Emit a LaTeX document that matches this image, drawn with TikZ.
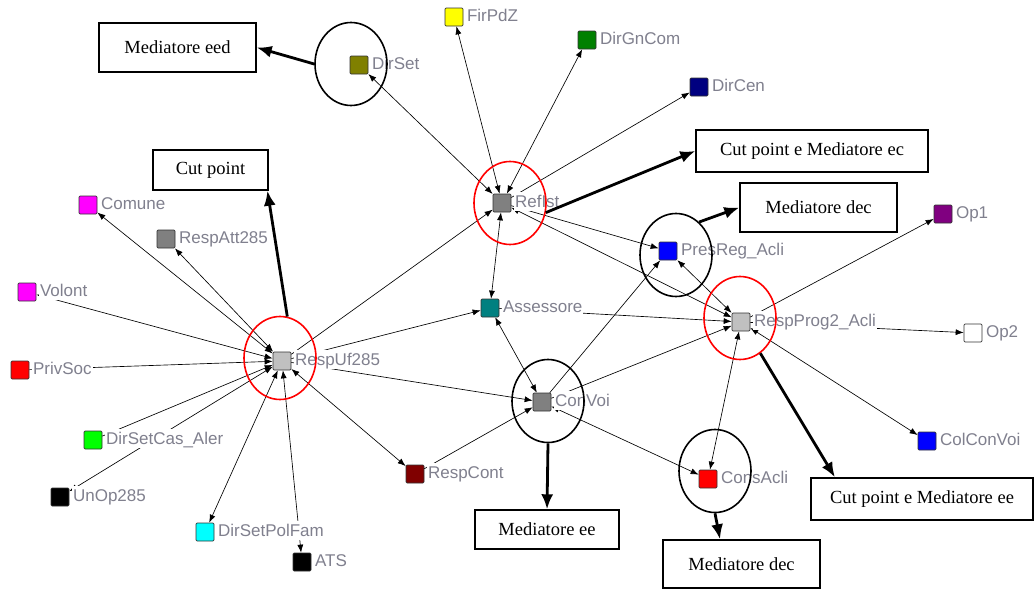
\documentclass[tikz,border=0pt]{standalone}
\usepackage{fontspec}
\setmainfont{Liberation Serif}
\newfontfamily\lblfont{Liberation Sans}
\usetikzlibrary{arrows.meta,shapes.geometric,calc}

\definecolor{lblgray}{RGB}{128,128,142}
\definecolor{olivec}{RGB}{128,128,0}
\definecolor{greenc}{RGB}{0,128,0}
\definecolor{limec}{RGB}{0,255,0}
\definecolor{navyc}{RGB}{0,0,128}
\definecolor{grayc}{RGB}{128,128,128}
\definecolor{silverc}{RGB}{192,192,192}
\definecolor{tealc}{RGB}{0,128,128}
\definecolor{purplec}{RGB}{128,0,128}
\definecolor{maroonc}{RGB}{128,0,0}
\definecolor{magentac}{RGB}{255,0,255}
\definecolor{cyanc}{RGB}{0,255,255}
\definecolor{yellowc}{RGB}{255,255,0}
\definecolor{redc}{RGB}{255,0,0}
\definecolor{bluec}{RGB}{0,0,255}
\definecolor{ringred}{RGB}{255,0,0}

\begin{document}
\begin{tikzpicture}[x=1pt,y=-1pt,
  sq/.style={draw=black!80, line width=0.7pt, rounded corners=1.2pt,
    minimum size=18pt, inner sep=0pt, fill=#1},
  lbl/.style={font=\lblfont\fontsize{17}{20}\selectfont, text=lblgray,
    fill=white, inner xsep=1pt, inner ysep=0.5pt,
    text height=15pt, text depth=3pt, anchor=base west},
  lnk/.style={line width=0.65pt, -{Latex[length=8pt,width=6pt]}},
  blnk/.style={line width=0.65pt,
    {Latex[length=8pt,width=6pt]}-{Latex[length=8pt,width=6pt]}},
  ring/.style={ellipse, draw=#1, line width=1.6pt, minimum width=72pt,
    minimum height=83pt, inner sep=0pt},
  tag/.style={draw, line width=1.4pt, font=\fontsize{18.5}{22}\selectfont,
    inner sep=0pt},
  bigarrow/.style={line width=2.8pt, -{Latex[length=15pt,width=12pt]}}
]
\useasboundingbox (0,0) rectangle (1036,589);

% actors
\node[sq=yellowc]  (firpdz)    at (454,17)  {};
\node[sq=greenc]   (dirgncom)  at (587,40)  {};
\node[sq=navyc]    (dircen)    at (699,87)  {};
\node[sq=olivec]   (dirset)    at (359,65)  {};
\node[sq=grayc]    (refist)    at (502,203) {};
\node[sq=magentac] (comune)    at (88,205)  {};
\node[sq=grayc]    (respatt)   at (166,239) {};
\node[sq=magentac] (volont)    at (27,292)  {};
\node[sq=redc]     (privsoc)   at (20,370)  {};
\node[sq=silverc]  (respuf)    at (282,361) {};
\node[sq=limec]    (dirsetcas) at (93,440)  {};
\node[sq=black]    (unop)      at (60,497)  {};
\node[sq=cyanc]    (dirsetpol) at (205,532) {};
\node[sq=black]    (ats)       at (302,562) {};
\node[sq=tealc]    (assessore) at (490,308) {};
\node[sq=bluec]    (presreg)   at (668,251) {};
\node[sq=silverc]  (respprog)  at (741,322) {};
\node[sq=purplec]  (op1)       at (943,214) {};
\node[sq=white]    (op2)       at (973,333) {};
\node[sq=bluec]    (colconvoi) at (927,441) {};
\node[sq=grayc]    (convoi)    at (542,402) {};
\node[sq=maroonc]  (respcont)  at (415,474) {};
\node[sq=redc]     (consacli)  at (708,479) {};

% ties
\draw[blnk] (refist) -- (dirset);
\draw[blnk] (refist) -- (firpdz);
\draw[blnk] (refist) -- (dirgncom);
\draw[lnk]  (refist) -- (dircen);
\draw[lnk]  (respuf) -- (refist);
\draw[blnk] (refist) -- (assessore);
\draw[lnk]  (refist) -- (presreg);
\draw[blnk] (refist) -- (respprog);
\draw[lnk]  (respuf) -- (assessore);
\draw[lnk]  (assessore) -- (respprog);
\draw[blnk] (assessore) -- (convoi);
\draw[lnk]  (respuf) -- (convoi);
\draw[blnk] (respuf) -- (respcont);
\draw[lnk]  (respcont) -- (convoi);
\draw[lnk]  (convoi) -- (presreg);
\draw[lnk]  (convoi) -- (respprog);
\draw[blnk] (convoi) -- (consacli);
\draw[blnk] (presreg) -- (respprog);
\draw[lnk]  (respprog) -- (op1);
\draw[lnk]  (respprog) -- (op2);
\draw[blnk] (respprog) -- (colconvoi);
\draw[blnk] (respprog) -- (consacli);
\draw[blnk] (comune) -- (respuf);
\draw[blnk] (respatt) -- (respuf);
\draw[blnk] (volont) -- (respuf);
\draw[lnk]  (privsoc) -- (respuf);
\draw[lnk]  (dirsetcas) -- (respuf);
\draw[blnk] (unop) -- (respuf);
\draw[blnk] (dirsetpol) -- (respuf);
\draw[blnk] (ats) -- (respuf);

% names
\foreach \n/\t in {firpdz/FirPdZ, dirgncom/DirGnCom, dircen/DirCen,
  dirset/DirSet, refist/RefIst, comune/Comune, respatt/RespAtt285,
  volont/Volont, privsoc/PrivSoc, respuf/RespUf285,
  dirsetcas/DirSetCas\_Aler, unop/UnOp285, dirsetpol/DirSetPolFam,
  ats/ATS, assessore/Assessore, presreg/PresReg\_Acli,
  respprog/RespProg2\_Acli, op1/Op1, op2/Op2, colconvoi/ColConVoi,
  convoi/ConVoi, respcont/RespCont, consacli/ConsAcli}
  \node[lbl] (t-\n) at ($(\n.east)+(2.5pt,-4pt)$) {\t};

% highlighted actors
\node[ring=black]   (c-dirset)   at (351,64)  {};
\node[ring=ringred] (c-refist)   at (510,203) {};
\node[ring=ringred] (c-respuf)   at (280,358) {};
\node[ring=black]   (c-presreg)  at (676,255) {};
\node[ring=ringred] (c-respprog) at (740,318) {};
\node[ring=black]   (c-convoi)   at (548,401) {};
\node[ring=black]   (c-consacli) at (715,471) {};

% roles
\node[tag, minimum width=157pt, minimum height=49pt] (b-eed)    at (177.5,47.5) {Mediatore eed};
\node[tag, minimum width=115pt, minimum height=40pt] (b-cut)    at (210.5,170)  {Cut point};
\node[tag, minimum width=232pt, minimum height=42pt] (b-cutec)  at (812,151)    {Cut point e Mediatore ec};
\node[tag, minimum width=157pt, minimum height=49pt] (b-dectop) at (818.5,207.5){Mediatore dec};
\node[tag, minimum width=144pt, minimum height=39pt] (b-ee)     at (547,529.5)  {Mediatore ee};
\node[tag, minimum width=157pt, minimum height=48pt] (b-decbot) at (741.5,564)  {Mediatore dec};
\node[tag, minimum width=222pt, minimum height=42pt] (b-cutee)  at (922,499)    {Cut point e Mediatore ee};

\draw[bigarrow] (c-dirset.west) -- (b-eed.east);
\draw[bigarrow] (c-respuf.80) -- (b-cut.-20);
\draw[bigarrow] (c-refist.-15) -- (b-cutec.west);
\draw[bigarrow] (c-presreg.55) -- (b-dectop.west);
\draw[bigarrow] (c-convoi.south) -- (b-ee.north);
\draw[bigarrow] (c-consacli.south) -- (b-decbot.131);
\draw[bigarrow] (c-respprog.-60) -- (b-cutee.166);
\end{tikzpicture}
\end{document}
